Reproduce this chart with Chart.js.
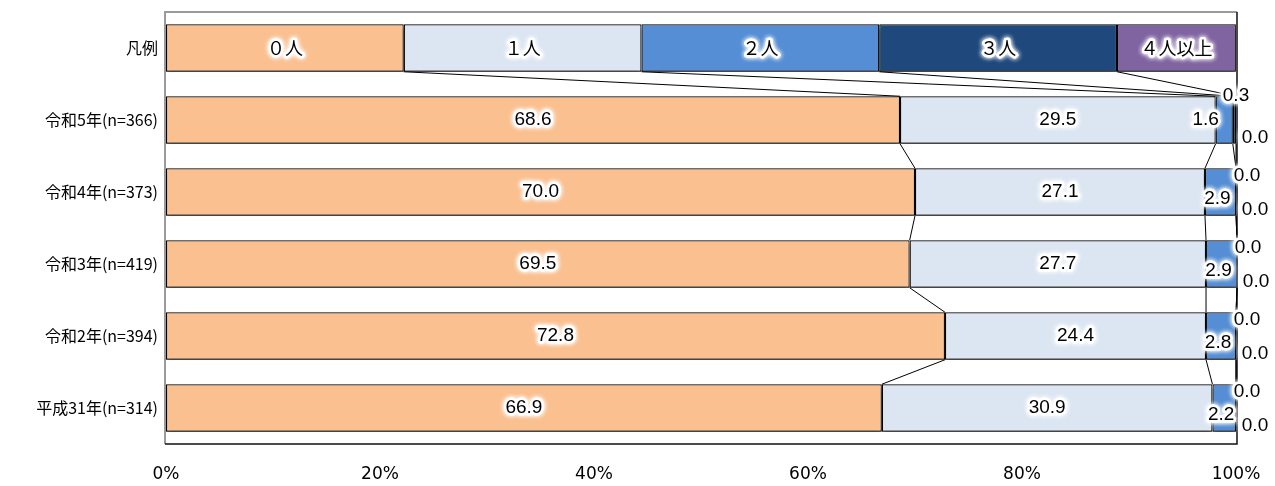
<!DOCTYPE html>
<html>
<head>
<meta charset="utf-8">
<script src="https://cdn.jsdelivr.net/npm/chart.js@4"></script>
<style>
  html, body { margin: 0; padding: 0; background: #fff; }
  #wrap { width: 1275px; height: 486px; }
</style>
</head>
<body>
<div id="wrap"><canvas id="c" width="1275" height="486"></canvas></div>
<script>
const categories = ['凡例', '令和5年(n=366)', '令和4年(n=373)', '令和3年(n=419)', '令和2年(n=394)', '平成31年(n=314)'];
const seriesNames = ['０人', '１人', '２人', '３人', '４人以上'];
const zeroPeople = [22.22, 68.6, 70.0, 69.5, 72.8, 66.9];
const onePerson = [22.22, 29.5, 27.1, 27.7, 24.4, 30.9];
const twoPeople = [22.22, 1.6, 2.9, 2.9, 2.8, 2.2];
const threePeople = [22.22, 0.3, 0.0, 0.0, 0.0, 0.0];
const fourPlus = [11.11, 0.0, 0.0, 0.0, 0.0, 0.0];
const xTicks = [0, 20, 40, 60, 80, 100];

const colors = ['#FAC090', '#DCE6F2', '#558ED5', '#1F497D', '#8064A2'];
const values = [zeroPeople, onePerson, twoPeople, threePeople, fourPlus];

const numFont = '19px "Liberation Sans", Arial, sans-serif';
const jpFont = '18px "Noto Sans CJK JP", sans-serif';

function glowText(ctx, text, x, y, font, align) {
    ctx.save();
    ctx.font = font;
    ctx.textAlign = align || 'center';
    ctx.textBaseline = 'middle';
    ctx.shadowColor = '#fff';
    ctx.shadowBlur = 5;
    ctx.strokeStyle = '#fff';
    ctx.lineWidth = 5;
    ctx.lineJoin = 'round';
    ctx.strokeText(text, x, y);
    ctx.strokeText(text, x, y);
    ctx.shadowBlur = 0;
    ctx.fillStyle = '#000';
    ctx.fillText(text, x, y);
    ctx.restore();
}

// plot area frame, bar shadows, series lines and labels
const frame = {
    id: 'frame',
    beforeDatasetsDraw(chart) {
        const {ctx, chartArea: a} = chart;
        ctx.save();
        ctx.strokeStyle = '#9a9a9a';
        ctx.lineWidth = 2;
        ctx.beginPath();
        ctx.moveTo(a.left - 1, a.bottom);
        ctx.lineTo(a.left - 1, a.top);
        ctx.lineTo(a.right + 1, a.top);
        ctx.stroke();
        ctx.strokeStyle = '#111';
        ctx.lineWidth = 1.5;
        ctx.beginPath();
        ctx.moveTo(a.right + 1, a.top);
        ctx.lineTo(a.right + 1, a.bottom);
        ctx.lineTo(a.left - 1, a.bottom);
        ctx.stroke();
        ctx.restore();
        ctx.save();
        ctx.shadowColor = 'rgba(0,0,0,0.5)';
        ctx.shadowOffsetY = 4;
        ctx.shadowBlur = 4;
    },
    afterDatasetsDraw(chart) {
        const ctx = chart.ctx;
        ctx.restore();
        const metas = values.map((_, k) => chart.getDatasetMeta(k));

        ctx.save();
        ctx.strokeStyle = '#000';
        ctx.lineWidth = 1;
        for (let i = 0; i < categories.length - 1; i++) {
            for (let k = 0; k < 4; k++) {
                const a = metas[k].data[i], b = metas[k].data[i + 1];
                ctx.beginPath();
                ctx.moveTo(a.x, a.y + a.height / 2);
                ctx.lineTo(b.x, b.y - b.height / 2);
                ctx.stroke();
            }
        }
        ctx.restore();

        for (let k = 0; k < seriesNames.length; k++) {
            const el = metas[k].data[0];
            glowText(ctx, seriesNames[k], (el.x + el.base) / 2, el.y, jpFont);
        }
        for (let i = 1; i < categories.length; i++) {
            for (let k = 0; k < values.length; k++) {
                const el = metas[k].data[i];
                const txt = values[k][i].toFixed(1);
                const top = el.y - el.height / 2, bot = el.y + el.height / 2;
                if (k < 2) {
                    glowText(ctx, txt, (el.x + el.base) / 2, el.y, numFont);
                } else if (k === 2) {
                    if (i === 1) glowText(ctx, txt, el.base - 10, el.y, numFont);
                    else glowText(ctx, txt, (el.x + el.base) / 2 - 3, el.y + 7, numFont);
                } else if (k === 3) {
                    glowText(ctx, txt, el.x + (i === 1 ? 0 : 11), top + (i === 1 ? 0 : 8), numFont);
                } else {
                    glowText(ctx, txt, el.x + 19, bot - 6, numFont);
                }
            }
        }
    }
};

new Chart(document.getElementById('c'), {
    type: 'bar',
    data: {
        labels: categories,
        datasets: seriesNames.map((name, k) => ({
            label: name,
            data: values[k],
            backgroundColor: colors[k],
            borderColor: '#000',
            borderWidth: 1.2,
            borderSkipped: false,
            barPercentage: 0.66,
            categoryPercentage: 1.0
        }))
    },
    options: {
        indexAxis: 'y',
        responsive: false,
        animation: false,
        layout: { padding: { top: 12, right: 39, bottom: 0, left: 0 } },
        plugins: { legend: { display: false }, tooltip: { enabled: false } },
        scales: {
            x: {
                stacked: true,
                min: 0,
                max: 100,
                grid: { display: false, drawTicks: false },
                border: { display: false },
                afterBuildTicks(scale) { scale.ticks = xTicks.map(v => ({ value: v })); },
                afterFit(scale) {
                    scale.height = 42;
                    scale.paddingLeft = 0;
                    scale.paddingRight = 0;
                },
                ticks: {
                    padding: 20,
                    color: '#000',
                    font: { size: 17, family: '"DejaVu Sans", Verdana, sans-serif' },
                    callback: v => v + '%'
                }
            },
            y: {
                stacked: true,
                grid: { display: false, drawTicks: false },
                border: { display: false },
                afterFit(scale) {
                    scale.width = 166;
                    scale.paddingTop = 0;
                    scale.paddingBottom = 0;
                },
                ticks: {
                    padding: 8,
                    color: '#000',
                    font: { size: 16, family: '"Noto Sans CJK JP", sans-serif' }
                }
            }
        }
    },
    plugins: [frame]
});
</script>
</body>
</html>
